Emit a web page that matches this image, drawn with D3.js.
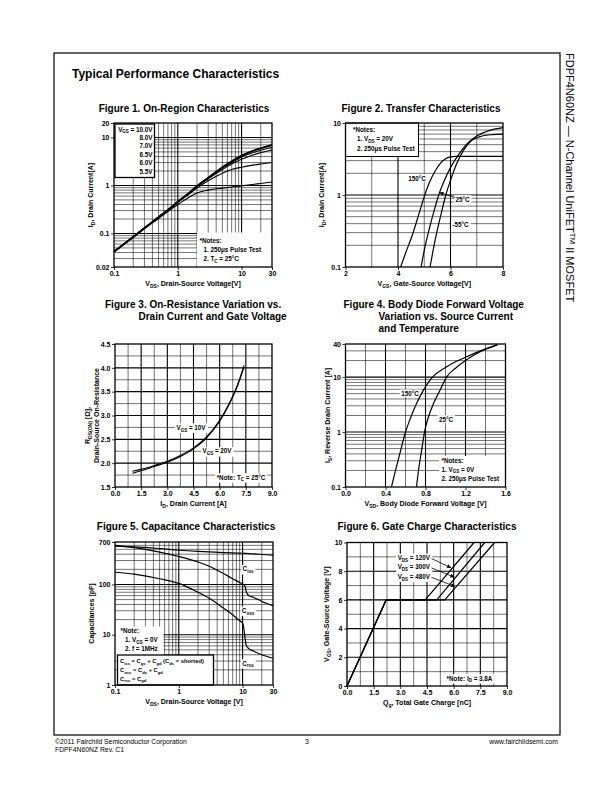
<!DOCTYPE html>
<html><head><meta charset="utf-8">
<script src="https://cdn.jsdelivr.net/npm/d3@7"></script>
<style>body{margin:0;background:#fff}svg{display:block}text{font-family:"Liberation Sans",Arial,Helvetica,sans-serif;fill:#000}</style>
</head><body><script>
// ================= DATA =================
// Figure 1: On-Region Characteristics
const fig1Vds   = [0.1, 0.2, 0.3, 0.5, 0.7, 1, 1.5, 2, 3, 5, 7, 10, 15, 20, 30];
const fig1Id10V = [0.042, 0.085, 0.13, 0.22, 0.31, 0.46, 0.70, 0.98, 1.45, 2.40, 3.20, 4.20, 5.30, 6.00, 7.10];
const fig1Id8V  = [0.042, 0.085, 0.13, 0.22, 0.31, 0.46, 0.70, 0.97, 1.44, 2.38, 3.15, 4.10, 5.20, 5.90, 6.90];
const fig1Id7V  = [0.042, 0.085, 0.13, 0.22, 0.31, 0.46, 0.69, 0.96, 1.42, 2.30, 3.00, 3.90, 4.80, 5.40, 6.20];
const fig1Id6V5 = [0.042, 0.085, 0.13, 0.22, 0.31, 0.45, 0.68, 0.94, 1.38, 2.15, 2.80, 3.50, 4.30, 4.80, 5.50];
const fig1Id6V  = [0.042, 0.084, 0.128, 0.215, 0.30, 0.44, 0.66, 0.88, 1.25, 1.80, 2.15, 2.40, 2.65, 2.80, 3.00];
const fig1Id5V5 = [0.041, 0.082, 0.125, 0.205, 0.285, 0.40, 0.57, 0.70, 0.80, 0.88, 0.93, 0.98, 1.05, 1.10, 1.18];
const fig1Legend = ["V_{GS} = 10.0V", "8.0V", "7.0V", "6.5V", "6.0V", "5.5V"];
const fig1XTicks = [0.1, 1, 10, 30];
const fig1YTicks = [0.02, 0.1, 1, 10, 20];

// Figure 2: Transfer Characteristics
const fig2Vgs150 = [4.1, 4.3, 4.55, 4.8, 5.0, 5.2, 5.4, 5.6, 5.8, 5.95, 6.2, 7.0, 8.0];
const fig2Id150  = [0.1, 0.16, 0.28, 0.55, 0.95, 1.5, 2.1, 2.7, 3.15, 3.35, 3.45, 3.45, 3.45];
const fig2Vgs25  = [4.88, 5.0, 5.2, 5.4, 5.55, 5.8, 6.0, 6.3, 6.6, 7.0, 7.5, 8.0];
const fig2Id25   = [0.1, 0.17, 0.35, 0.65, 1.0, 1.7, 2.4, 3.6, 5.0, 6.6, 7.9, 8.6];
const fig2VgsM55 = [5.22, 5.35, 5.5, 5.65, 5.82, 6.0, 6.25, 6.5, 6.8, 7.2, 7.6, 8.0];
const fig2IdM55  = [0.1, 0.18, 0.33, 0.56, 1.0, 1.6, 2.8, 4.2, 5.7, 6.6, 6.9, 7.0];
const fig2XTicks = [2, 4, 6, 8];
const fig2YTicks = [0.1, 1, 10];

// Figure 3: On-Resistance vs Drain Current
const fig3Id    = [1.0, 1.5, 2.25, 3.0, 3.75, 4.5, 5.25, 6.0, 6.5, 7.0, 7.4];
const fig3R10V  = [1.83, 1.87, 1.95, 2.04, 2.16, 2.32, 2.55, 2.90, 3.22, 3.62, 4.05];
const fig3R20V  = [1.79, 1.84, 1.93, 2.02, 2.14, 2.30, 2.53, 2.88, 3.20, 3.60, 4.02];
const fig3XTicks = [0, 1.5, 3.0, 4.5, 6.0, 7.5, 9.0];
const fig3YTicks = [1.5, 2.0, 2.5, 3.0, 3.5, 4.0, 4.5];

// Figure 4: Body Diode Forward Voltage
const fig4Vsd150 = [0.46, 0.5, 0.55, 0.6, 0.65, 0.7, 0.76, 0.87, 1.0, 1.1, 1.2, 1.35, 1.52];
const fig4Is150  = [0.1, 0.2, 0.45, 1.0, 1.8, 3.0, 5.0, 10, 15, 19, 23, 30, 39];
const fig4Vsd25  = [0.71, 0.73, 0.76, 0.79, 0.83, 0.88, 0.94, 1.01, 1.1, 1.2, 1.3, 1.4, 1.52];
const fig4Is25   = [0.1, 0.2, 0.45, 1.0, 1.9, 3.3, 5.5, 10, 14.5, 20, 26, 32, 39];
const fig4XTicks = [0, 0.4, 0.8, 1.2, 1.6];
const fig4YTicks = [0.1, 1, 10, 40];

// Figure 5: Capacitance Characteristics
const fig5Vds  = [0.1, 0.2, 0.5, 1, 2, 3, 5, 7, 9, 10, 10.5, 11, 11.5, 12.5, 15, 20, 30];
const fig5Ciss = [580, 560, 520, 480, 455, 445, 432, 425, 420, 418, 417, 416, 415, 412, 405, 395, 385];
const fig5Coss = [600, 540, 440, 360, 280, 230, 165, 130, 110, 102, 98, 90, 70, 60, 55, 46, 38];
const fig5Crss = [175, 160, 130, 105, 70, 53, 34, 25, 19, 17, 13, 8, 6, 5.3, 4.7, 4.0, 3.4];
const fig5XTicks = [0.1, 1, 10, 30];
const fig5YTicks = [1, 10, 100, 700];

// Figure 6: Gate Charge Characteristics
const fig6Qg120 = [0, 2.2, 4.4, 7.15];
const fig6Qg300 = [0, 2.2, 5.05, 7.75];
const fig6Qg480 = [0, 2.2, 5.5, 8.3];
const fig6Vgs   = [0, 6, 6, 10];
const fig6Labels = ["V_{DS} = 120V", "V_{DS} = 300V", "V_{DS} = 480V"];
const fig6XTicks = [0, 1.5, 3.0, 4.5, 6.0, 7.5, 9.0];
const fig6YTicks = [0, 2, 4, 6, 8, 10];

// ================= DRAWING =================
const svg = d3.select("body").append("svg").attr("width", 612).attr("height", 792);
svg.append("rect").attr("width", 612).attr("height", 792).attr("fill", "#fff");
const defs = svg.append("defs");
defs.append("marker").attr("id", "ah").attr("viewBox", "0 0 10 10").attr("refX", 10).attr("refY", 5)
  .attr("markerUnits", "userSpaceOnUse").attr("markerWidth", 5).attr("markerHeight", 4).attr("orient", "auto")
  .append("path").attr("d", "M0,0L10,5L0,10z").attr("fill", "#000");

function rich(sel, str, fs) {
  const parts = str.split(/(_\{[^}]*\}|\^\{[^}]*\})/).filter(s => s.length);
  let shift = 0;
  parts.forEach(p => {
    let t = p, d = 0, size = null;
    if (p.startsWith("_{")) { t = p.slice(2, -1); d = fs * 0.3; size = fs * 0.72; }
    else if (p.startsWith("^{")) { t = p.slice(2, -1); d = -fs * 0.4; size = fs * 0.72; }
    const ts = sel.append("tspan").text(t);
    if (d - shift !== 0) ts.attr("dy", d - shift);
    if (size) ts.attr("font-size", size);
    shift = d;
  });
  return sel;
}
function txt(parent, x, y, str, o = {}) {
  const size = o.size || 6.3;
  const t = parent.append("text").attr("x", x).attr("y", y)
    .attr("text-anchor", o.anchor || "start").attr("font-size", size)
    .attr("font-weight", o.bold === false ? "normal" : "bold");
  rich(t, str, size);
  return t;
}
function logGrid(lo, hi) {
  const out = [];
  for (let k = Math.floor(Math.log10(lo)); k <= Math.ceil(Math.log10(hi)); k++)
    for (let m = 1; m <= 9; m++) {
      const v = +(m * Math.pow(10, k)).toPrecision(4);
      if (v > lo * 1.0001 && v < hi * 0.9999) out.push({ v, major: m === 1 });
    }
  return out;
}
function linGrid(lo, hi, step, majorEvery) {
  const out = []; const n = Math.round((hi - lo) / step);
  for (let i = 1; i < n; i++) out.push({ v: lo + i * step, major: i % majorEvery === 0 });
  return out;
}
function panel(o) {
  const p = Object.assign({}, o);
  p.xs = (o.xLog ? d3.scaleLog() : d3.scaleLinear()).domain(o.xDomain).range([o.x0, o.x1]);
  p.ys = (o.yLog ? d3.scaleLog() : d3.scaleLinear()).domain(o.yDomain).range([o.y1, o.y0]);
  const root = svg.append("g");
  p.gGrid = root.append("g"); p.gBg = root.append("g"); p.gCurve = root.append("g");
  p.gText = root.append("g"); p.gTop = root.append("g");
  o.xGrid.forEach(d => p.gGrid.append("line").attr("x1", p.xs(d.v)).attr("x2", p.xs(d.v))
    .attr("y1", o.y0).attr("y2", o.y1).attr("stroke", "#000").attr("stroke-width", d.major ? 1.1 : 0.55));
  o.yGrid.forEach(d => p.gGrid.append("line").attr("y1", p.ys(d.v)).attr("y2", p.ys(d.v))
    .attr("x1", o.x0).attr("x2", o.x1).attr("stroke", "#000").attr("stroke-width", d.major ? 1.1 : 0.55));
  const gx = p.gTop.append("g").attr("transform", `translate(0,${o.y1})`)
    .call(d3.axisBottom(p.xs).tickValues(o.xTicks).tickFormat(o.xFmt).tickSize(3).tickPadding(1.5));
  const gy = p.gTop.append("g").attr("transform", `translate(${o.x0},0)`)
    .call(d3.axisLeft(p.ys).tickValues(o.yTicks).tickFormat(o.yFmt).tickSize(3).tickPadding(1.5));
  [gx, gy].forEach(g => {
    g.select(".domain").remove();
    g.attr("font-family", '"Liberation Sans",Arial,sans-serif').attr("font-size", 7).attr("font-weight", "bold");
    g.selectAll("line").attr("stroke", "#000").attr("stroke-width", 0.8);
    g.selectAll("text").attr("fill", "#000");
  });
  p.gTop.append("rect").attr("x", o.x0).attr("y", o.y0).attr("width", o.x1 - o.x0).attr("height", o.y1 - o.y0)
    .attr("fill", "none").attr("stroke", "#000").attr("stroke-width", 1.3);
  // axis titles
  const cx = (o.x0 + o.x1) / 2, cy = (o.y0 + o.y1) / 2;
  txt(p.gTop, cx, o.y1 + 18.5, o.xTitle, { anchor: "middle", size: 7 });
  o.yTitles.forEach((s, i) => {
    const t = p.gTop.append("text").attr("transform", `translate(${o.x0 - o.yTitleOff[i]},${cy + (o.yTitleDy ? o.yTitleDy[i] : 0)}) rotate(-90)`)
      .attr("text-anchor", "middle").attr("font-size", 7).attr("font-weight", "bold");
    rich(t, s, 7);
  });
  return p;
}
function curve(p, xs, ys, w = 1.2, interp = d3.curveMonotoneX) {
  const line = d3.line().x(d => p.xs(d[0])).y(d => p.ys(d[1])).curve(interp);
  p.gCurve.append("path").datum(xs.map((x, i) => [x, ys[i]])).attr("d", line)
    .attr("fill", "none").attr("stroke", "#000").attr("stroke-width", w).attr("stroke-linejoin", "round");
}
function bgBox(p, x, y, w, h, stroke) {
  p.gBg.append("rect").attr("x", x).attr("y", y).attr("width", w).attr("height", h)
    .attr("fill", "#fff").attr("stroke", stroke ? "#000" : "none").attr("stroke-width", stroke || 0);
}
function bgLabel(p, x, y, str, o = {}) {
  const t = txt(p.gText, x, y, str, o);
  const b = t.node().getBBox();
  p.gBg.append("rect").attr("x", b.x - 1.5).attr("y", b.y - 0.3).attr("width", b.width + 3).attr("height", b.height + 0.6).attr("fill", "#fff");
  return t;
}
function arrow(p, x1, y1, x2, y2) {
  p.gText.append("line").attr("x1", x1).attr("y1", y1).attr("x2", x2).attr("y2", y2)
    .attr("stroke", "#000").attr("stroke-width", 0.8).attr("marker-end", "url(#ah)");
}
const fmtPlain = d => String(d);
const fmt1 = d3.format(".1f");

// ---------- page frame & headings ----------
svg.append("rect").attr("x", 54).attr("y", 53).attr("width", 506).attr("height", 682)
  .attr("fill", "none").attr("stroke", "#000").attr("stroke-width", 1.2);
txt(svg, 72, 78, "Typical Performance Characteristics", { size: 12 });
txt(svg, 184, 111.5, "Figure 1. On-Region Characteristics", { size: 10, anchor: "middle" });
txt(svg, 421, 111.5, "Figure 2. Transfer Characteristics", { size: 10, anchor: "middle" });
txt(svg, 105, 308, "Figure 3. On-Resistance Variation vs.", { size: 10 });
txt(svg, 138.5, 320, "Drain Current and Gate Voltage", { size: 10 });
txt(svg, 343.5, 308, "Figure 4. Body Diode Forward Voltage", { size: 10 });
txt(svg, 378.5, 320, "Variation vs. Source Current", { size: 10 });
txt(svg, 378.5, 332, "and Temperature", { size: 10 });
txt(svg, 186, 529.5, "Figure 5. Capacitance Characteristics", { size: 10, anchor: "middle" });
txt(svg, 427, 529.5, "Figure 6. Gate Charge Characteristics", { size: 10, anchor: "middle" });

// side title
{
  const t = svg.append("text").attr("transform", "translate(565.5,53) rotate(90)").attr("font-size", 11);
  rich(t, "FDPF4N60NZ — N-Channel UniFET^{TM} II MOSFET", 11);
}
// footer
txt(svg, 55, 743.5, "©2011 Fairchild Semiconductor Corporation", { size: 6.8, bold: false });
txt(svg, 55, 751.5, "FDPF4N60NZ Rev. C1", { size: 6.8, bold: false });
txt(svg, 307, 743.5, "3", { size: 6.8, bold: false, anchor: "middle" });
txt(svg, 558, 743.5, "www.fairchildsemi.com", { size: 6.8, bold: false, anchor: "end" });

// ---------- Figure 1 ----------
{
  const p = panel({ x0: 114, x1: 272, y0: 123, y1: 267, xLog: true, yLog: true,
    xDomain: [0.1, 30], yDomain: [0.02, 20], xGrid: logGrid(0.1, 30), yGrid: logGrid(0.02, 20),
    xTicks: fig1XTicks, yTicks: fig1YTicks, xFmt: fmtPlain, yFmt: fmtPlain,
    xTitle: "V_{DS}, Drain-Source Voltage[V]", yTitles: ["I_{D}, Drain Current[A]"], yTitleOff: [21.5] });
  bgBox(p, 115, 124, 39.5, 53.5, 1.3);
  fig1Legend.forEach((s, i) => txt(p.gText, 152.5, 131.5 + i * 8.4, s, { anchor: "end", size: 6.3 }));
  bgBox(p, 197, 232.5, 74.5, 34);
  txt(p.gText, 199.5, 243, "*Notes:");
  txt(p.gText, 203.5, 251.8, "1. 250μs Pulse Test");
  txt(p.gText, 203.5, 261.3, "2. T_{C} = 25°C");
  [fig1Id5V5, fig1Id6V, fig1Id6V5, fig1Id7V].forEach(s => curve(p, fig1Vds, s, 1.1));
  curve(p, fig1Vds, fig1Id8V, 1.5);
  curve(p, fig1Vds, fig1Id10V, 1.5);
}

// ---------- Figure 2 ----------
{
  const p = panel({ x0: 345.5, x1: 503, y0: 123, y1: 267, xLog: false, yLog: true,
    xDomain: [2, 8], yDomain: [0.1, 10], xGrid: linGrid(2, 8, 1, 2), yGrid: logGrid(0.1, 10),
    xTicks: fig2XTicks, yTicks: fig2YTicks, xFmt: fmtPlain, yFmt: fmtPlain,
    xTitle: "V_{GS}, Gate-Source Voltage[V]", yTitles: ["I_{D}, Drain Current[A]"], yTitleOff: [21.5] });
  bgBox(p, 345.5, 123, 73, 33.5, 1);
  txt(p.gText, 353, 132, "*Notes:");
  txt(p.gText, 357, 141.2, "1. V_{DS} = 20V");
  txt(p.gText, 357, 150.5, "2. 250μs Pulse Test");
  curve(p, fig2Vgs150, fig2Id150);
  curve(p, fig2Vgs25, fig2Id25);
  curve(p, fig2VgsM55, fig2IdM55);
  bgLabel(p, 417, 180.5, "150°C", { anchor: "middle" });
  bgLabel(p, 455.5, 201.5, "25°C");
  bgLabel(p, 452.5, 226.5, "-55°C");
  arrow(p, 455, 197.5, p.xs(5.58), p.ys(1.08));
}

// ---------- Figure 3 ----------
{
  const p = panel({ x0: 115, x1: 272, y0: 344, y1: 487, xLog: false, yLog: false,
    xDomain: [0, 9], yDomain: [1.5, 4.5], xGrid: linGrid(0, 9, 0.75, 2), yGrid: linGrid(1.5, 4.5, 0.25, 2),
    xTicks: fig3XTicks, yTicks: fig3YTicks, xFmt: fmt1, yFmt: fmt1,
    xTitle: "I_{D}, Drain Current [A]", yTitles: ["R_{DS(ON)} [Ω],", "Drain-Source On-Resistance"],
    yTitleOff: [25, 16.5], yTitleDy: [10, 0] });
  curve(p, fig3Id, fig3R10V, 1.1);
  curve(p, fig3Id, fig3R20V, 1.1);
  bgLabel(p, 191, p.ys(2.75) + 2.2, "V_{GS} = 10V", { anchor: "middle" });
  bgLabel(p, 217, p.ys(2.25) + 2.2, "V_{GS} = 20V", { anchor: "middle" });
  bgLabel(p, 241, 479.5, "*Note: T_{C} = 25°C", { anchor: "middle" });
}

// ---------- Figure 4 ----------
{
  const p = panel({ x0: 345.5, x1: 505.5, y0: 344, y1: 487, xLog: false, yLog: true,
    xDomain: [0, 1.6], yDomain: [0.1, 40], xGrid: linGrid(0, 1.6, 0.2, 2), yGrid: logGrid(0.1, 40),
    xTicks: fig4XTicks, yTicks: fig4YTicks, xFmt: fmt1, yFmt: fmtPlain,
    xTitle: "V_{SD}, Body Diode Forward Voltage [V]", yTitles: ["I_{S}, Reverse Drain Current [A]"], yTitleOff: [16] });
  bgBox(p, 439, 456, 66.5, 31);
  txt(p.gText, 441.5, 463.3, "*Notes:");
  txt(p.gText, 441.5, 471.6, "1. V_{GS} = 0V");
  txt(p.gText, 441.5, 480.6, "2. 250μs Pulse Test");
  curve(p, fig4Vsd150, fig4Is150);
  curve(p, fig4Vsd25, fig4Is25);
  bgLabel(p, 410, p.ys(5) + 2.2, "150°C", { anchor: "middle" });
  bgLabel(p, 446, 421.5, "25°C", { anchor: "middle" });
}

// ---------- Figure 5 ----------
{
  const p = panel({ x0: 115, x1: 273, y0: 542, y1: 685, xLog: true, yLog: true,
    xDomain: [0.1, 30], yDomain: [1, 700], xGrid: logGrid(0.1, 30), yGrid: logGrid(1, 700),
    xTicks: fig5XTicks, yTicks: fig5YTicks, xFmt: fmtPlain, yFmt: fmtPlain,
    xTitle: "V_{DS}, Drain-Source Voltage [V]", yTitles: ["Capacitances [pF]"], yTitleOff: [21.5] });
  bgBox(p, 115, 626.5, 48.5, 29);
  txt(p.gText, 120.5, 633.3, "*Note:");
  txt(p.gText, 125, 642.3, "1. V_{GS} = 0V");
  txt(p.gText, 125, 650.6, "2. f = 1MHz");
  bgBox(p, 117.5, 655, 96, 30, 1.3);
  txt(p.gText, 120, 663, "C_{iss} = C_{gs} + C_{gd} (C_{ds} = shorted)", { size: 5.8 });
  txt(p.gText, 120, 672.3, "C_{oss} = C_{ds} + C_{gd}", { size: 5.8 });
  txt(p.gText, 120, 680.6, "C_{rss} = C_{gd}", { size: 5.8 });
  curve(p, fig5Vds, fig5Ciss);
  curve(p, fig5Vds, fig5Coss);
  curve(p, fig5Vds, fig5Crss);
  bgLabel(p, 248, p.ys(200) + 2, "C_{iss}", { anchor: "middle" });
  bgLabel(p, 248, p.ys(30) + 2, "C_{oss}", { anchor: "middle" });
  bgLabel(p, 248, 665.5, "C_{rss}", { anchor: "middle" });
}

// ---------- Figure 6 ----------
{
  const p = panel({ x0: 347, x1: 507, y0: 542.5, y1: 686, xLog: false, yLog: false,
    xDomain: [0, 9], yDomain: [0, 10], xGrid: linGrid(0, 9, 0.75, 2), yGrid: linGrid(0, 10, 1, 2),
    xTicks: fig6XTicks, yTicks: fig6YTicks, xFmt: fmt1, yFmt: fmtPlain,
    xTitle: "Q_{g}, Total Gate Charge [nC]", yTitles: ["V_{GS}, Gate-Source Voltage [V]"], yTitleOff: [18.5] });
  [fig6Qg120, fig6Qg300, fig6Qg480].forEach(q => curve(p, q, fig6Vgs, 1.2, d3.curveLinear));
  const targets = [8.2, 7.55, 6.9];
  [fig6Qg120, fig6Qg300, fig6Qg480].forEach((q, i) => {
    const y0 = 560 + i * 9.4;
    bgLabel(p, 430, y0, fig6Labels[i], { anchor: "end" });
    const v = targets[i];
    const qx = q[2] + (v - fig6Vgs[2]) / (fig6Vgs[3] - fig6Vgs[2]) * (q[3] - q[2]);
    arrow(p, 431.5, y0 - 1.5, p.xs(qx) - 1, p.ys(v) - 0.5);
  });
  bgLabel(p, 469.5, 680.5, "*Note: I_{D} = 3.8A", { anchor: "middle" });
}
</script></body></html>
